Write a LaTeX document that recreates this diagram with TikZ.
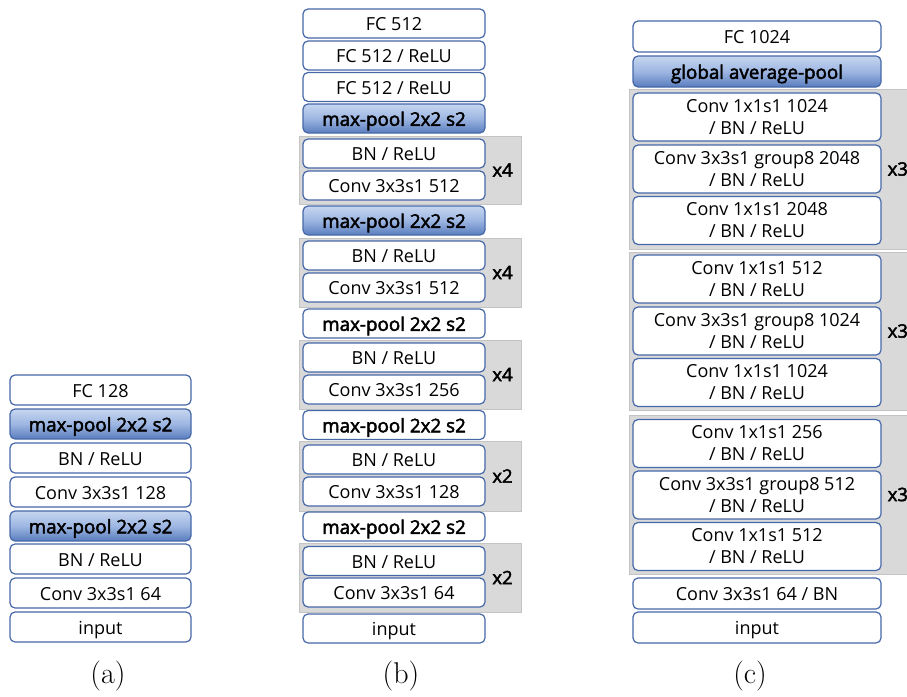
\documentclass[tikz,border=0pt]{standalone}
\usepackage{fontspec}
\newfontfamily\boxfont{Open Sans}[AutoFakeBold=2.5]
\definecolor{boxblue}{HTML}{4668A8}
\definecolor{poolTop}{HTML}{C6D6EF}
\definecolor{poolMid}{HTML}{9DB6E2}
\definecolor{poolBot}{HTML}{5A7DBE}
\definecolor{grayfill}{HTML}{D9D9D9}
\definecolor{grayline}{HTML}{C4C4C4}
\tikzset{
  box/.style={draw=boxblue, line width=1.2pt, rounded corners=5pt, fill=white,
    inner sep=0pt, align=center, text=black,
    font=\boxfont\fontsize{18}{22}\selectfont},
  oneline/.style={text height=18pt, text depth=3.4pt},
  boxa/.style={box, oneline, minimum width=181pt, minimum height=30pt},
  boxb/.style={box, oneline, minimum width=182pt, minimum height=29pt},
  boxc/.style={box, oneline, minimum width=248pt, minimum height=31pt},
  boxcc/.style={box, minimum width=248pt, minimum height=48pt},
  poolsh/.style={top color=poolTop, bottom color=poolBot, middle color=poolMid},
  boldtext/.style={font=\boxfont\bfseries\fontsize{18.8}{22}\selectfont},
  grayback/.style={fill=grayfill, draw=grayline, line width=0.8pt},
  reps/.style={font=\boxfont\bfseries\fontsize{18.5}{20}\selectfont, inner sep=0pt},
  caption/.style={font=\fontsize{30}{36}\selectfont, inner sep=0pt},
}
\begin{document}
\begin{tikzpicture}[x=1pt, y=-1pt]
\useasboundingbox (0,0) rectangle (907,696);
% ---------- (a)
\node[boxa] (a8) at (100.5,390) {FC 128};
\node[boxa, poolsh, boldtext] (a7) at (100.5,424) {max-pool 2x2 s2};
\node[boxa] (a6) at (100.5,458) {BN / ReLU};
\node[boxa] (a5) at (100.5,492) {Conv 3x3s1 128};
\node[boxa, poolsh, boldtext] (a4) at (100.5,526) {max-pool 2x2 s2};
\node[boxa] (a3) at (100.5,559) {BN / ReLU};
\node[boxa] (a2) at (100.5,593) {Conv 3x3s1 64};
\node[boxa] (a1) at (100.5,627) {input};
\node[caption] (capa) at (108,676) {(a)};
% ---------- (b)
\draw[grayback] (299,136) rectangle (521,204);
\draw[grayback] (299,238) rectangle (521,307);
\draw[grayback] (299,340) rectangle (521,409);
\draw[grayback] (299,441) rectangle (521,511);
\draw[grayback] (299,543) rectangle (521,612);
\node[boxb] (b1) at (394,23.5) {FC 512};
\node[boxb] (b2) at (394,55.5) {FC 512 / ReLU};
\node[boxb] (b3) at (394,87) {FC 512 / ReLU};
\node[boxb, poolsh, boldtext] (b4) at (394,118.5) {max-pool 2x2 s2};
\node[boxb] (b5) at (394,153.5) {BN / ReLU};
\node[boxb] (b6) at (394,185.5) {Conv 3x3s1 512};
\node[boxb, poolsh, boldtext] (b7) at (394,220.5) {max-pool 2x2 s2};
\node[boxb] (b8) at (394,255.5) {BN / ReLU};
\node[boxb] (b9) at (394,287.5) {Conv 3x3s1 512};
\node[boxb, boldtext] (b10) at (394,323.5) {max-pool 2x2 s2};
\node[boxb] (b11) at (394,357.5) {BN / ReLU};
\node[boxb] (b12) at (394,389.5) {Conv 3x3s1 256};
\node[boxb, boldtext] (b13) at (394,425) {max-pool 2x2 s2};
\node[boxb] (b14) at (394,459.5) {BN / ReLU};
\node[boxb] (b15) at (394,491.5) {Conv 3x3s1 128};
\node[boxb, boldtext] (b16) at (394,526.5) {max-pool 2x2 s2};
\node[boxb] (b17) at (394,561) {BN / ReLU};
\node[boxb] (b18) at (394,592.5) {Conv 3x3s1 64};
\node[boxb] (b19) at (394,628.5) {input};
\node[reps] (r1) at (502.5,170) {x4};
\node[reps] (r2) at (502.5,272.5) {x4};
\node[reps] (r3) at (502.5,374.5) {x4};
\node[reps] (r4) at (502.5,476) {x2};
\node[reps] (r5) at (502.5,577.5) {x2};
\node[caption] (capb) at (401,676) {(b)};
% ---------- (c)
\draw[grayback] (629,89) rectangle (915,249);
\draw[grayback] (629,252) rectangle (915,410);
\draw[grayback] (629,415) rectangle (915,574);
\node[boxc] (c1) at (757,36.5) {FC 1024};
\node[boxc, poolsh, boldtext] (c2) at (757,71.5) {global average-pool};
\node[boxcc] (c3) at (757,117) {Conv 1x1s1 1024\\/ BN / ReLU};
\node[boxcc] (c4) at (757,169) {Conv 3x3s1 group8 2048\\/ BN / ReLU};
\node[boxcc] (c5) at (757,220.5) {Conv 1x1s1 2048\\/ BN / ReLU};
\node[boxcc] (c6) at (757,279) {Conv 1x1s1 512\\/ BN / ReLU};
\node[boxcc] (c7) at (757,331) {Conv 3x3s1 group8 1024\\/ BN / ReLU};
\node[boxcc] (c8) at (757,382.5) {Conv 1x1s1 1024\\/ BN / ReLU};
\node[boxcc] (c9) at (757,443.5) {Conv 1x1s1 256\\/ BN / ReLU};
\node[boxcc] (c10) at (757,495) {Conv 3x3s1 group8 512\\/ BN / ReLU};
\node[boxcc] (c11) at (757,546.5) {Conv 1x1s1 512\\/ BN / ReLU};
\node[boxc] (c12) at (757,593.5) {Conv 3x3s1 64 / BN};
\node[boxc] (c13) at (757,627.5) {input};
\node[reps, anchor=west] (r6) at (887.5,169) {x3};
\node[reps, anchor=west] (r7) at (887.5,331) {x3};
\node[reps, anchor=west] (r8) at (887.5,494.5) {x3};
\node[caption] (capc) at (750,676) {(c)};
\end{tikzpicture}
\end{document}
